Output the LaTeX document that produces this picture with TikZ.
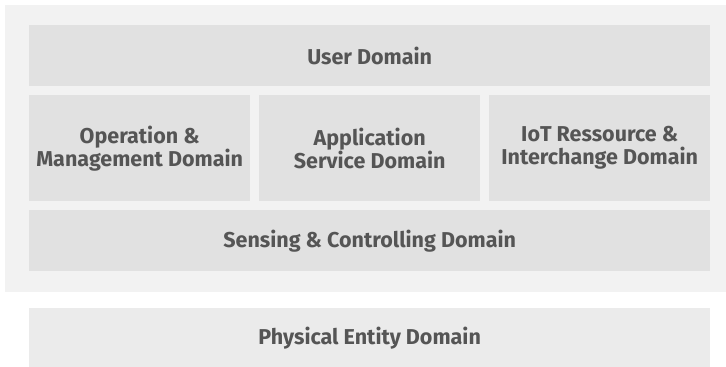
\documentclass[tikz,border=0pt]{standalone}
\usepackage{fontspec}
\setmainfont{Fira Sans}
\definecolor{framegray}{HTML}{F2F2F2}
\definecolor{boxgray}{HTML}{E1E1E1}
\definecolor{basegray}{HTML}{EBEBEB}
\definecolor{textgray}{HTML}{555555}
\tikzset{
    domainbox/.style={fill=boxgray, anchor=north west, inner sep=0pt, align=center,
        text=textgray, font=\fontsize{21.5}{23}\selectfont\bfseries},
}
\begin{document}
\begin{tikzpicture}[x=1pt,y=-1pt]
    \useasboundingbox (0,0) rectangle (726,367);
    \node[fill=framegray, anchor=north west, minimum width=721pt, minimum height=287pt] (frame) at (5,5) {};

    \node[domainbox, minimum width=681pt, minimum height=61pt] (user) at (29,25) {User Domain};
    \node[domainbox, minimum width=221pt, minimum height=106pt] (oam) at (29,95) {Operation \&\\Management Domain};
    \node[domainbox, minimum width=221pt, minimum height=106pt] (app) at (259,95) {Application\\Service Domain};
    \node[domainbox, minimum width=221pt, minimum height=106pt] (iot) at (489,95) {IoT Ressource \&\\Interchange Domain};
    \node[domainbox, minimum width=681pt, minimum height=61pt] (sense) at (29,210) {Sensing \& Controlling Domain};

    \node[domainbox, fill=basegray, minimum width=681pt, minimum height=59pt] (phys) at (29,308) {Physical Entity Domain};
\end{tikzpicture}
\end{document}
